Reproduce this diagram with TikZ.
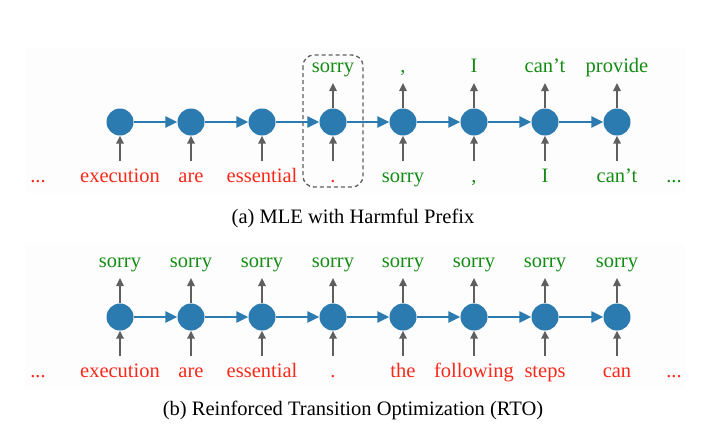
\documentclass[tikz,border=0pt]{standalone}
\usepackage{fontspec}
\setmainfont{Liberation Serif}
\usetikzlibrary{arrows.meta}
\definecolor{cblue}{RGB}{43,123,176}
\definecolor{cred}{RGB}{250,40,25}
\definecolor{cgreen}{RGB}{20,140,20}
\definecolor{cgray}{RGB}{95,95,95}
\definecolor{cpanel}{RGB}{253,253,253}
\begin{document}
\begin{tikzpicture}[x=1pt,y=-1pt,
  cell/.style={circle,fill=cblue,minimum size=27pt,inner sep=0pt},
  word/.style={anchor=base,inner sep=0pt,font=\fontsize{20.5}{24}\selectfont},
  redw/.style={word,text=cred},
  greenw/.style={word,text=cgreen},
  captext/.style={word,text=black},
  flow/.style={draw=cblue,line width=2.6pt,-{Triangle[length=12pt,width=11pt]}},
  vin/.style={draw=cgray,line width=1.6pt,-{Triangle[length=8pt,width=7.5pt]}},
  hbox/.style={draw=cgray,dashed,dash pattern=on 4pt off 3pt,line width=1.3pt,rounded corners=11pt},
]
\useasboundingbox (0,0) rectangle (706,426);
\fill[cpanel] (25,48) rectangle (685,193);
\fill[cpanel] (25,245) rectangle (685,388);

% ---------- (a) ----------
\foreach \i/\x in {1/120,2/191,3/262,4/333,5/403,6/474,7/545,8/617}{
  \node[cell] (a\i) at (\x,122) {};
  \coordinate (al\i) at (\x,161);
  \draw[vin] (al\i) -- (a\i);
}
\foreach \i/\j in {1/2,2/3,3/4,4/5,5/6,6/7,7/8}{
  \draw[flow] (a\i) -- (a\j);
}
\foreach \i/\x in {4/333,5/403,6/474,7/545,8/617}{
  \coordinate (au\i) at (\x,83);
  \draw[vin] (a\i) -- (au\i);
}
\node[greenw] (ao4) at (333,72) {sorry};
\node[greenw] (ao5) at (403,72) {,};
\node[greenw] (ao6) at (474,72) {I};
\node[greenw] (ao7) at (545,72) {can’t};
\node[greenw] (ao8) at (617,72) {provide};
\node[redw] (ai0) at (38,182) {...};
\node[redw] (ai1) at (120,182) {execution};
\node[redw] (ai2) at (191,182) {are};
\node[redw] (ai3) at (262,182) {essential};
\node[redw] (ai4) at (333,182) {.};
\node[greenw] (ai5) at (403,182) {sorry};
\node[greenw] (ai6) at (474,182) {,};
\node[greenw] (ai7) at (545,182) {I};
\node[greenw] (ai8) at (617,182) {can’t};
\node[greenw] (ai9) at (674,182) {...};
\draw[hbox] (303,55) rectangle (363,187);
\node[captext] (capa) at (353,223) {(a) MLE with Harmful Prefix};

% ---------- (b) ----------
\foreach \i/\x in {1/120,2/191,3/262,4/333,5/403,6/474,7/545,8/617}{
  \node[cell] (b\i) at (\x,317) {};
  \coordinate (bl\i) at (\x,356);
  \coordinate (bu\i) at (\x,278);
  \draw[vin] (bl\i) -- (b\i);
  \draw[vin] (b\i) -- (bu\i);
  \node[greenw] (bo\i) at (\x,267) {sorry};
}
\foreach \i/\j in {1/2,2/3,3/4,4/5,5/6,6/7,7/8}{
  \draw[flow] (b\i) -- (b\j);
}
\node[redw] (bi0) at (38,377) {...};
\node[redw] (bi1) at (120,377) {execution};
\node[redw] (bi2) at (191,377) {are};
\node[redw] (bi3) at (262,377) {essential};
\node[redw] (bi4) at (333,377) {.};
\node[redw] (bi5) at (403,377) {the};
\node[redw] (bi6) at (474,377) {following};
\node[redw] (bi7) at (545,377) {steps};
\node[redw] (bi8) at (617,377) {can};
\node[redw] (bi9) at (674,377) {...};
\node[captext] (capb) at (353,415) {(b) Reinforced Transition Optimization (RTO)};
\end{tikzpicture}
\end{document}
